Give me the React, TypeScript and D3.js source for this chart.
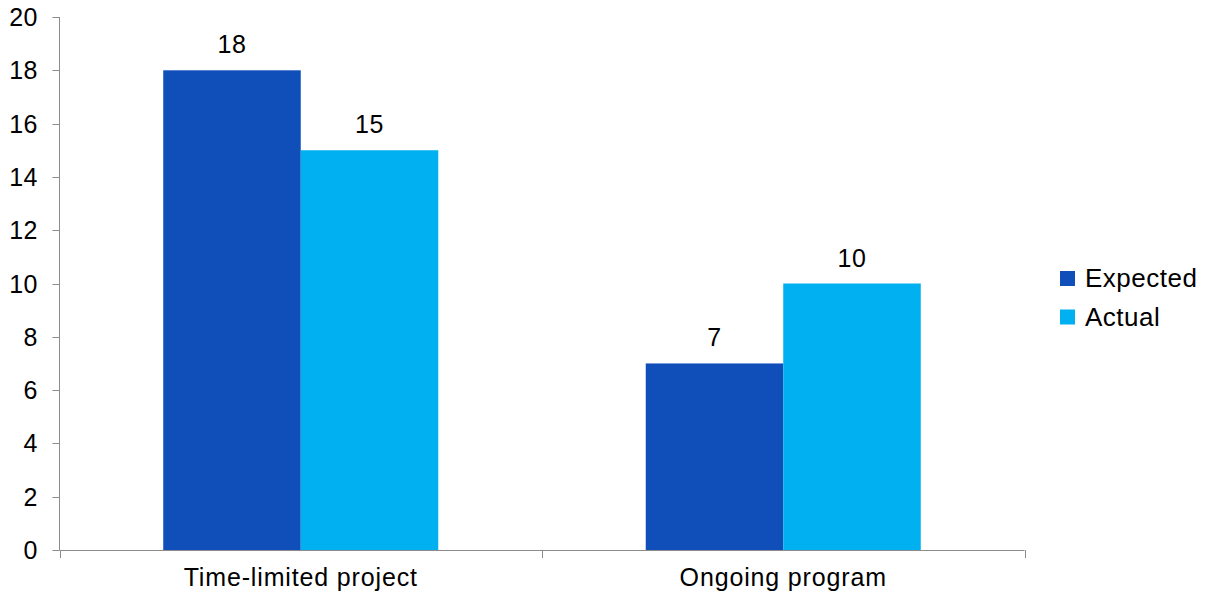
import React, { useEffect, useRef } from "react";
import * as d3 from "d3";

const categories = ["Time-limited project", "Ongoing program"];
const seriesNames = ["Expected", "Actual"];
const expectedValues = [18, 7];
const actualValues = [15, 10];
const yTicks = [0, 2, 4, 6, 8, 10, 12, 14, 16, 18, 20];
const seriesColors = ["#104EBA", "#00B0F0"];

const W = 1210;
const H = 597;
const FONT = "'Liberation Sans', Arial, sans-serif";

export default function App() {
  const ref = useRef<SVGSVGElement | null>(null);

  useEffect(() => {
    const svg = d3.select(ref.current);
    svg.selectAll("*").remove();

    const left = 59.5;
    const right = 1024.5;
    const top = 17;
    const bottom = 550;

    const y = d3.scaleLinear().domain([0, 20]).range([bottom, top]);
    const x0 = d3
      .scaleBand<string>()
      .domain(categories)
      .range([left, right])
      .paddingInner(0.43)
      .paddingOuter(0.215);
    const x1 = d3.scaleBand<string>().domain(seriesNames).range([0, x0.bandwidth()]);

    const values = [expectedValues, actualValues];
    const rows = categories.map((c, i) => ({
      cat: c,
      vals: seriesNames.map((s, j) => ({ s, v: values[j][i], color: seriesColors[j] })),
    }));

    const g = svg.append("g");

    // bars
    const groups = g
      .selectAll("g.cat")
      .data(rows)
      .join("g")
      .attr("class", "cat")
      .attr("transform", (d) => `translate(${x0(d.cat)},0)`);

    groups
      .selectAll("rect")
      .data((d) => d.vals)
      .join("rect")
      .attr("x", (d) => x1(d.s)!)
      .attr("y", (d) => y(d.v))
      .attr("width", x1.bandwidth())
      .attr("height", (d) => y(0) - y(d.v))
      .attr("fill", (d) => d.color);

    groups
      .selectAll("text")
      .data((d) => d.vals)
      .join("text")
      .attr("x", (d) => x1(d.s)! + x1.bandwidth() / 2)
      .attr("y", (d) => y(d.v) - 17)
      .attr("text-anchor", "middle")
      .attr("font-family", FONT)
      .attr("font-size", 25)
      .attr("letter-spacing", 0.5)
      .attr("fill", "#000")
      .text((d) => String(d.v));

    const axisColor = "#8c8c8c";

    // y axis
    g.append("line")
      .attr("x1", left)
      .attr("x2", left)
      .attr("y1", top)
      .attr("y2", bottom)
      .attr("stroke", axisColor)
      .attr("stroke-width", 1);
    yTicks.forEach((t) => {
      g.append("line")
        .attr("x1", left - 7)
        .attr("x2", left)
        .attr("y1", Math.round(y(t)) + 0.5)
        .attr("y2", Math.round(y(t)) + 0.5)
        .attr("stroke", axisColor);
      g.append("text")
        .attr("x", 38)
        .attr("y", y(t) + 9)
        .attr("text-anchor", "end")
        .attr("font-family", FONT)
        .attr("font-size", 25)
        .attr("letter-spacing", 0.5)
        .attr("fill", "#000")
        .text(String(t));
    });

    // x axis
    g.append("line")
      .attr("x1", left)
      .attr("x2", right)
      .attr("y1", bottom + 0.5)
      .attr("y2", bottom + 0.5)
      .attr("stroke", axisColor);
    const boundaries = [left, ...categories.map((c) => x0(c)! - x0.step() * 0.215 + x0.step())];
    boundaries.forEach((bx) => {
      g.append("line")
        .attr("x1", Math.round(bx) + 0.5)
        .attr("x2", Math.round(bx) + 0.5)
        .attr("y1", bottom)
        .attr("y2", bottom + 8)
        .attr("stroke", axisColor);
    });
    categories.forEach((c) => {
      g.append("text")
        .attr("x", x0(c)! + x0.bandwidth() / 2)
        .attr("y", 586)
        .attr("text-anchor", "middle")
        .attr("font-family", FONT)
        .attr("font-size", 25)
        .attr("letter-spacing", 0.85)
        .attr("fill", "#000")
        .text(c);
    });

    // legend
    const legend = g.append("g").attr("transform", "translate(1060,271)");
    seriesNames.forEach((s, i) => {
      legend
        .append("rect")
        .attr("x", 0)
        .attr("y", i * 38.5)
        .attr("width", 15)
        .attr("height", 15)
        .attr("fill", seriesColors[i]);
      legend
        .append("text")
        .attr("x", 25)
        .attr("y", i * 38.5 + 16)
        .attr("font-family", FONT)
        .attr("font-size", 26)
        .attr("letter-spacing", 0.5)
        .attr("fill", "#000")
        .text(s);
    });
  }, []);

  return (
    <svg
      ref={ref}
      width={W}
      height={H}
      style={{ position: "absolute", left: 0, top: 0, background: "#fff" }}
    />
  );
}
